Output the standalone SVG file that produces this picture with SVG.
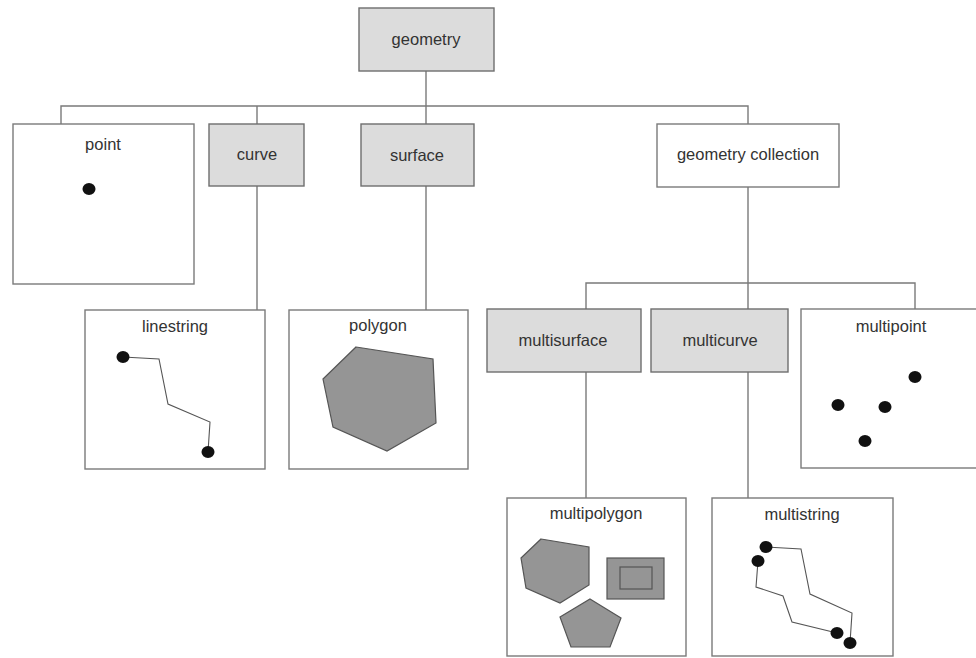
<svg xmlns="http://www.w3.org/2000/svg" width="976" height="658" viewBox="0 0 976 658">
<style>
.box{fill:#ffffff;stroke:#7a7a7a;stroke-width:1.4}
.abs{fill:#dcdcdc;stroke:#6e6e6e;stroke-width:1.4}
.lbl{font-family:"Liberation Sans",Arial,sans-serif;font-size:16.5px;fill:#333333;text-anchor:middle}
.conn{fill:none;stroke:#7a7a7a;stroke-width:1.4}
.dot{fill:#111111}
.poly{fill:#959595;stroke:#555555;stroke-width:1.2}
.ln{fill:none;stroke:#555555;stroke-width:1.1}
</style>
<rect width="976" height="658" fill="#ffffff"/>
<g id="connectors">
<path class="conn" d="M426 71V124M61 124V106H748V124M257 106V124"/>
<path class="conn" d="M257 186V310M426 186V310"/>
<path class="conn" d="M748 187V309M586 309V283H915V309"/>
<path class="conn" d="M586 372V498M748 372V498"/>
</g>
<g id="geometry">
<rect class="abs" x="359" y="8" width="135" height="63"/>
<text class="lbl" x="426" y="45">geometry</text>
</g>
<g id="point">
<rect class="box" x="13" y="124" width="181" height="160"/>
<text class="lbl" x="103" y="150">point</text>
<ellipse class="dot" cx="89" cy="189" rx="6.5" ry="6"/>
</g>
<g id="curve">
<rect class="abs" x="209" y="124" width="95" height="62"/>
<text class="lbl" x="257" y="160">curve</text>
</g>
<g id="surface">
<rect class="abs" x="361" y="124" width="113" height="62"/>
<text class="lbl" x="417" y="161">surface</text>
</g>
<g id="geometry-collection">
<rect class="box" x="657" y="124" width="182" height="63"/>
<text class="lbl" x="748" y="160">geometry collection</text>
</g>
<g id="linestring">
<rect class="box" x="85" y="310" width="180" height="159"/>
<text class="lbl" x="175" y="332">linestring</text>
<polyline class="ln" points="123,357 159,359 168,404 210,422 208,452"/>
<ellipse class="dot" cx="123" cy="357" rx="6.5" ry="6"/>
<ellipse class="dot" cx="208" cy="452" rx="6.5" ry="6"/>
</g>
<g id="polygon">
<rect class="box" x="289" y="310" width="179" height="159"/>
<text class="lbl" x="378" y="331">polygon</text>
<polygon class="poly" points="356,347 433,359 436,423 387,451 333,427 323,379"/>
</g>
<g id="multisurface">
<rect class="abs" x="487" y="309" width="154" height="63"/>
<text class="lbl" x="563" y="346">multisurface</text>
</g>
<g id="multicurve">
<rect class="abs" x="651" y="309" width="137" height="63"/>
<text class="lbl" x="720" y="346">multicurve</text>
</g>
<g id="multipoint">
<rect class="box" x="801" y="309" width="180" height="159"/>
<text class="lbl" x="891" y="332">multipoint</text>
<ellipse class="dot" cx="915" cy="377" rx="6.5" ry="6"/>
<ellipse class="dot" cx="838" cy="405" rx="6.5" ry="6"/>
<ellipse class="dot" cx="885" cy="407" rx="6.5" ry="6"/>
<ellipse class="dot" cx="865" cy="441" rx="6.5" ry="6"/>
</g>
<g id="multipolygon">
<rect class="box" x="507" y="498" width="179" height="158"/>
<text class="lbl" x="596" y="519">multipolygon</text>
<polygon class="poly" points="541,539 589,547 589,585 560,603 526,588 521,558"/>
<rect class="poly" x="607" y="558" width="57" height="41"/>
<rect class="poly" x="620" y="567" width="32" height="22"/>
<polygon class="poly" points="590,599 621,618 610,647 571,647 560,617"/>
</g>
<g id="multistring">
<rect class="box" x="712" y="498" width="181" height="158"/>
<text class="lbl" x="802" y="520">multistring</text>
<polyline class="ln" points="766,547 801,549 810,594 852,613 850,643"/>
<polyline class="ln" points="758,561 756,587 783,596 792,622 837,633"/>
<ellipse class="dot" cx="766" cy="547" rx="6.5" ry="6"/>
<ellipse class="dot" cx="758" cy="561" rx="6.5" ry="6"/>
<ellipse class="dot" cx="837" cy="633" rx="6.5" ry="6"/>
<ellipse class="dot" cx="850" cy="643" rx="6.5" ry="6"/>
</g>
</svg>
